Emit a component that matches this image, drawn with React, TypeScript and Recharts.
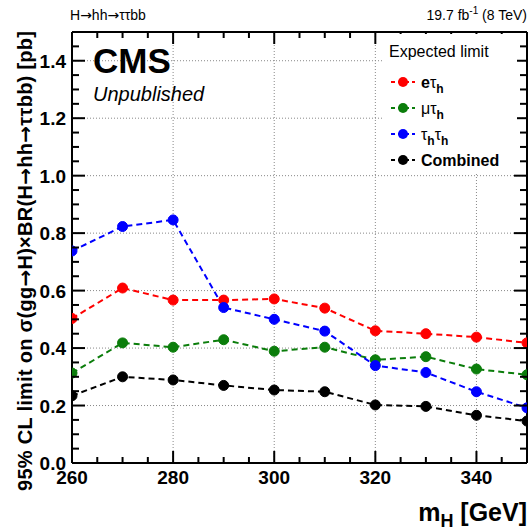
import React from 'react';
import { LineChart, Line, XAxis, YAxis, ReferenceLine } from 'recharts';

// m_H points (GeV) and expected 95% CL limits (pb)
const masses = [260, 270, 280, 290, 300, 310, 320, 330, 340, 350];
const etau = [0.503, 0.609, 0.567, 0.567, 0.571, 0.539, 0.46, 0.45, 0.438, 0.418];
const mutau = [0.313, 0.418, 0.403, 0.429, 0.389, 0.403, 0.359, 0.37, 0.327, 0.307];
const tautau = [0.738, 0.823, 0.846, 0.541, 0.5, 0.459, 0.339, 0.315, 0.248, 0.192];
const combined = [0.234, 0.3, 0.289, 0.27, 0.254, 0.248, 0.202, 0.197, 0.166, 0.146];

const xMajorTicks = [260, 280, 300, 320, 340];
const yMajorTicks = [0, 0.2, 0.4, 0.6, 0.8, 1.0, 1.2, 1.4];
const xGrid = [280, 300, 320, 340];
const yGrid = [0.2, 0.4, 0.6, 0.8, 1.0, 1.2, 1.4];

// minor ticks: every 5 GeV, every 0.05 pb
const xTicks = Array.from({ length: 19 }, (_, i) => 260 + i * 5);
const yTicks = Array.from({ length: 31 }, (_, i) => Math.round(i * 5) / 100);

const data = masses.map((m, i) => ({
  mass: m,
  etau: etau[i],
  mutau: mutau[i],
  tautau: tautau[i],
  combined: combined[i],
}));

const RED = '#ff0000';
const GREEN = '#0b7d0b';
const BLUE = '#0000ff';
const BLACK = '#000000';

const FONT = '"Liberation Sans", Arial, Helvetica, sans-serif';
const ARROW_FONT = '"DejaVu Sans", sans-serif';

const isXMajor = (v: number) => xMajorTicks.includes(v);
const isYMajor = (v: number) => yMajorTicks.some((t) => Math.abs(t - v) < 1e-6);

const BottomTick = (props: any) => {
  const { x, y, payload } = props;
  const v = payload.value;
  const major = isXMajor(v);
  return (
    <g>
      <line x1={x} x2={x} y1={y} y2={y - (major ? 12 : 6)} stroke="#000" strokeWidth={2} />
      {major && (
        <text x={x} y={y + 21} textAnchor="middle" fontSize={19} fontWeight="bold" fill="#000" fontFamily={FONT}>
          {v}
        </text>
      )}
    </g>
  );
};

const TopTick = (props: any) => {
  const { x, y, payload } = props;
  const major = isXMajor(payload.value);
  return <line x1={x} x2={x} y1={y} y2={y + (major ? 12 : 6)} stroke="#000" strokeWidth={2} />;
};

const LeftTick = (props: any) => {
  const { x, y, payload } = props;
  const v = payload.value;
  const major = isYMajor(v);
  return (
    <g>
      <line x1={x} x2={x + (major ? 13 : 7)} y1={y} y2={y} stroke="#000" strokeWidth={2} />
      {major && (
        <text x={x - 6} y={y + 7} textAnchor="end" fontSize={19} fontWeight="bold" fill="#000" fontFamily={FONT}>
          {v.toFixed(1)}
        </text>
      )}
    </g>
  );
};

const RightTick = (props: any) => {
  const { x, y, payload } = props;
  const major = isYMajor(payload.value);
  return <line x1={x} x2={x - (major ? 13 : 7)} y1={y} y2={y} stroke="#000" strokeWidth={2} />;
};

const legendRows = [
  { color: RED, y: 82, label: 'etau' },
  { color: GREEN, y: 108, label: 'mutau' },
  { color: BLUE, y: 134, label: 'tautau' },
  { color: BLACK, y: 160, label: 'combined' },
];

const LegendLabel = ({ kind, x, y }: { kind: string; x: number; y: number }) => {
  const sub = (t: string) => (
    <tspan dy={5} fontSize={12} fontWeight="bold">
      {t}
    </tspan>
  );
  const common = { x, y, fontSize: 16, fill: '#000', fontFamily: FONT };
  if (kind === 'etau')
    return (
      <text {...common}>
        <tspan fontWeight="bold">e</tspan>
        <tspan>τ</tspan>
        {sub('h')}
      </text>
    );
  if (kind === 'mutau')
    return (
      <text {...common}>
        <tspan>μτ</tspan>
        {sub('h')}
      </text>
    );
  if (kind === 'tautau')
    return (
      <text {...common}>
        <tspan>τ</tspan>
        {sub('h')}
        <tspan dy={-5}>τ</tspan>
        {sub('h')}
      </text>
    );
  return (
    <text {...common} fontWeight="bold">
      Combined
    </text>
  );
};

const series = [
  { key: 'etau', color: RED },
  { key: 'mutau', color: GREEN },
  { key: 'tautau', color: BLUE },
  { key: 'combined', color: BLACK },
];

const Arrow = () => <tspan fontFamily={ARROW_FONT}>→</tspan>;

export default function App() {
  return (
    <div style={{ position: 'absolute', left: 0, top: 0, width: 529, height: 531, background: '#fff' }}>
      <LineChart width={529} height={531} data={data} margin={{ top: 0, right: 0, bottom: 0, left: 0 }}>
        <XAxis
          xAxisId="bottom"
          dataKey="mass"
          type="number"
          domain={[260, 350]}
          allowDataOverflow
          ticks={xTicks}
          interval={0}
          height={68}
          tickLine={false}
          tickSize={0}
          tickMargin={0}
          tick={<BottomTick />}
          axisLine={{ stroke: '#000', strokeWidth: 2 }}
        />
        <XAxis
          xAxisId="top"
          orientation="top"
          dataKey="mass"
          type="number"
          domain={[260, 350]}
          allowDataOverflow
          ticks={xTicks}
          interval={0}
          height={32}
          tickLine={false}
          tickSize={0}
          tickMargin={0}
          tick={<TopTick />}
          axisLine={{ stroke: '#000', strokeWidth: 2 }}
        />
        <YAxis
          yAxisId="left"
          type="number"
          domain={[0, 1.5]}
          allowDataOverflow
          ticks={yTicks}
          interval={0}
          width={72}
          tickLine={false}
          tickSize={0}
          tickMargin={0}
          tick={<LeftTick />}
          axisLine={{ stroke: '#000', strokeWidth: 2 }}
        />
        <YAxis
          yAxisId="right"
          orientation="right"
          type="number"
          domain={[0, 1.5]}
          allowDataOverflow
          ticks={yTicks}
          interval={0}
          width={2}
          tickLine={false}
          tickSize={0}
          tickMargin={0}
          tick={<RightTick />}
          axisLine={{ stroke: '#000', strokeWidth: 2 }}
        />
        {xGrid.map((v) => (
          <ReferenceLine
            key={`gx${v}`}
            x={v}
            xAxisId="bottom"
            yAxisId="left"
            stroke="#888"
            strokeDasharray="1 2"
            strokeWidth={1}
          />
        ))}
        {yGrid.map((v) => (
          <ReferenceLine
            key={`gy${v}`}
            y={v}
            xAxisId="bottom"
            yAxisId="left"
            stroke="#888"
            strokeDasharray="1 2"
            strokeWidth={1}
          />
        ))}
        {series.map((s) => (
          <Line
            key={s.key}
            xAxisId="bottom"
            yAxisId="left"
            dataKey={s.key}
            type="linear"
            stroke={s.color}
            strokeWidth={2}
            strokeDasharray="6 4"
            dot={{ r: 5, fill: s.color, stroke: s.color, strokeWidth: 1, strokeDasharray: '' }}
            isAnimationActive={false}
          />
        ))}
      </LineChart>

      <svg
        width={529}
        height={531}
        style={{ position: 'absolute', left: 0, top: 0, pointerEvents: 'none' }}
        fontFamily={FONT}
      >
        <text x={70} y={20} fontSize={14} fill="#000">
          H<Arrow />hh<Arrow />ττbb
        </text>
        <text x={527} y={20} fontSize={14} fill="#000" textAnchor="end">
          19.7 fb
          <tspan dy={-6} fontSize={10}>
            -1
          </tspan>
          <tspan dy={6}> (8 TeV)</tspan>
        </text>

        <text x={93} y={73} fontSize={35} fontWeight="bold" fill="#000">
          CMS
        </text>
        <text x={93} y={101} fontSize={20} fontStyle="italic" fill="#000">
          Unpublished
        </text>

        <text
          transform="translate(32,261) rotate(-90)"
          textAnchor="middle"
          fontSize={20}
          fontWeight="bold"
          fill="#000"
          textLength={460}
        >
          95% CL limit on σ(gg<Arrow />H)×BR(H<Arrow />hh<Arrow />ττbb) [pb]
        </text>

        <text x={527} y={521} textAnchor="end" fontSize={25} fontWeight="bold" fill="#000">
          m
          <tspan dy={6} fontSize={18}>
            H
          </tspan>
          <tspan dy={-6}> [GeV]</tspan>
        </text>

        <rect x={383} y={34} width={134} height={138} fill="#fff" />
        <text x={389} y={57} fontSize={16} fill="#000">
          Expected limit
        </text>
        {legendRows.map((r) => (
          <g key={r.label}>
            <line x1={391} x2={415} y1={r.y} y2={r.y} stroke={r.color} strokeWidth={2} strokeDasharray="4 3" />
            <circle cx={403} cy={r.y} r={5} fill={r.color} />
            <LegendLabel kind={r.label} x={421} y={r.y + 6} />
          </g>
        ))}
      </svg>
    </div>
  );
}
